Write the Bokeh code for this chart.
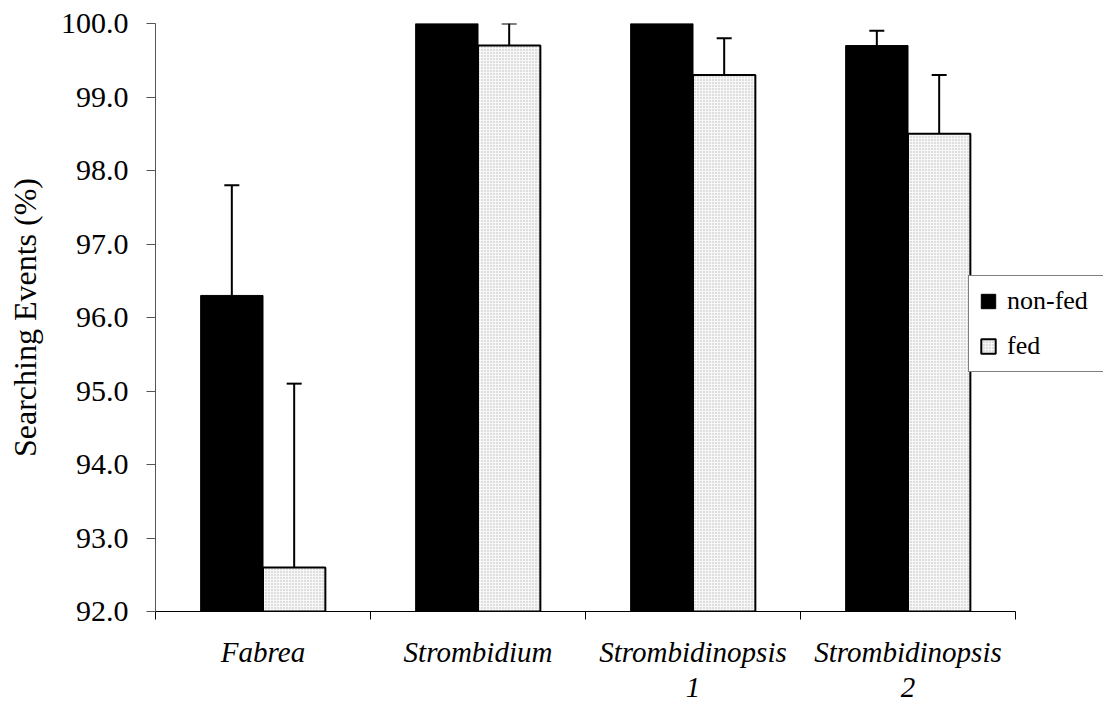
from bokeh.plotting import figure
from bokeh.models import (Range1d, FixedTicker, SingleIntervalTicker, PrintfTickFormatter,
                          Whisker, TeeHead, ColumnDataSource, Legend, LegendItem)
from bokeh.embed import file_html
from bokeh.resources import INLINE

# ---- data ----
categories = ["Fabrea", "Strombidium", "Strombidinopsis\n1", "Strombidinopsis\n2"]
nonfed = [96.3, 100.0, 100.0, 99.7]
nonfed_err = [1.5, 0.0, 0.0, 0.2]
fed = [92.6, 99.7, 99.3, 98.5]
fed_err = [2.5, 0.3, 0.5, 0.8]
series_labels = ["non-fed", "fed"]
y_min, y_max = 92.0, 100.0

FONT = "Liberation Serif"
W, H = 1103, 705
LEFT, TOP, BOTTOM = 155, 23, 94
AXIS_RIGHT = 1015          # pixel where the category axis ends
n = len(categories)
centers = [i + 0.5 for i in range(n)]
off = 0.145
bw = 0.29
x_end = n * (W - LEFT) / (AXIS_RIGHT - LEFT)   # frame extends to canvas edge for the legend

p = figure(width=W, height=H, output_backend="svg", toolbar_location=None,
           x_range=Range1d(0, x_end), y_range=Range1d(y_min, y_max),
           min_border_left=LEFT, min_border_right=0, min_border_top=TOP,
           min_border_bottom=BOTTOM)
p.outline_line_color = None
p.xgrid.visible = False
p.ygrid.visible = False
p.background_fill_color = "white"
p.border_fill_color = "white"

src_n = ColumnDataSource(dict(x=[c - off for c in centers], top=nonfed, err=nonfed_err))
src_f = ColumnDataSource(dict(x=[c + off for c in centers], top=fed, err=fed_err))

r_n = p.vbar(x="x", top="top", bottom=y_min, width=bw, source=src_n,
             fill_color="black", line_color="black", line_width=1)
r_f = p.vbar(x="x", top="top", bottom=y_min, width=bw, source=src_f,
             fill_color="#f7f7f7", hatch_pattern="dot", hatch_color="#b8b8b8",
             hatch_scale=3, hatch_weight=1, line_color="black", line_width=2)

# error bars (upper only)
def whisk(xs, tops, errs):
    xs2 = [x for x, e in zip(xs, errs) if e > 0]
    lo = [t for t, e in zip(tops, errs) if e > 0]
    hi = [t + e for t, e in zip(tops, errs) if e > 0]
    s = ColumnDataSource(dict(base=xs2, lower=lo, upper=hi))
    w = Whisker(base="base", lower="lower", upper="upper", source=s,
                lower_head=None,
                upper_head=TeeHead(size=15, line_color="black", line_width=2),
                line_color="black", line_width=2)
    p.add_layout(w)

whisk([c - off for c in centers], nonfed, nonfed_err)
whisk([c + off for c in centers], fed, fed_err)

# x axis
xa = p.xaxis[0]
xa.bounds = (0, n)
xa.ticker = FixedTicker(ticks=centers, minor_ticks=list(range(n + 1)))
xa.major_label_overrides = {c: lab for c, lab in zip(centers, categories)}
xa.major_tick_line_color = None
xa.major_tick_out = 0
xa.major_tick_in = 0
xa.minor_tick_out = 8
xa.minor_tick_in = 0
xa.minor_tick_line_color = "black"
xa.axis_line_color = "black"
xa.major_label_text_font = FONT
xa.major_label_text_font_style = "italic"
xa.major_label_text_font_size = "29px"
xa.major_label_text_color = "black"
xa.major_label_text_line_height = 1.1
xa.major_label_standoff = 16

# y axis
ya = p.yaxis[0]
ya.ticker = SingleIntervalTicker(interval=1, num_minor_ticks=0)
ya.formatter = PrintfTickFormatter(format="%.1f")
ya.axis_label = "Searching Events (%)"
ya.axis_label_text_font = FONT
ya.axis_label_text_font_style = "normal"
ya.axis_label_text_font_size = "32px"
ya.axis_label_text_color = "black"
ya.axis_label_standoff = 15
ya.major_label_text_font = FONT
ya.major_label_text_font_size = "30px"
ya.major_label_text_color = "black"
ya.major_label_standoff = 18
ya.major_tick_out = 9
ya.major_tick_in = 0
ya.minor_tick_line_color = None
ya.axis_line_color = "#555555"
ya.major_tick_line_color = "#555555"

legend = Legend(items=[LegendItem(label=series_labels[0], renderers=[r_n]),
                       LegendItem(label=series_labels[1], renderers=[r_f])],
                location=(968 - LEFT, H - BOTTOM - 372), margin=0, padding=10, spacing=15,
                glyph_width=18, glyph_height=18, label_standoff=10, label_width=160,
                label_text_font=FONT, label_text_font_size="26px", label_text_color="black",
                border_line_color="black", border_line_width=1,
                background_fill_color="white", background_fill_alpha=1.0)
p.add_layout(legend)

open("out.html", "w").write(file_html(p, INLINE))
